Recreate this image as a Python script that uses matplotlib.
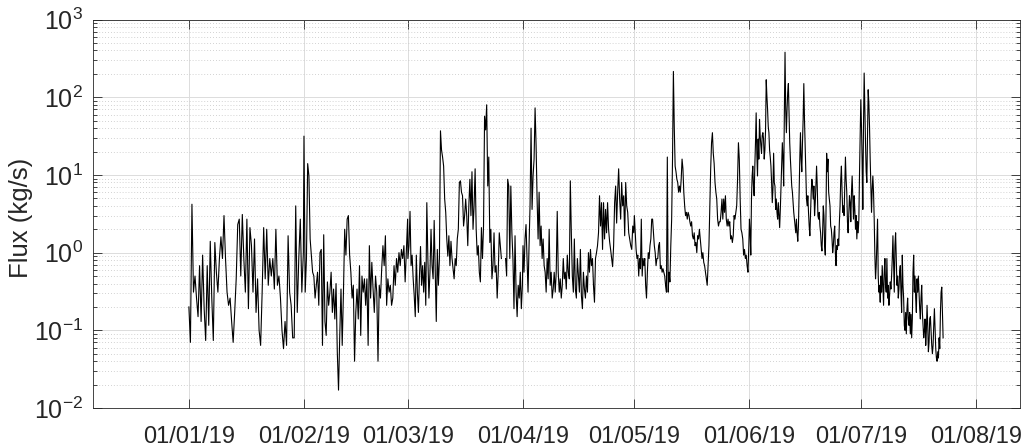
import matplotlib
matplotlib.use('Agg')
import matplotlib.pyplot as plt
import matplotlib.dates as mdates
import numpy as np
import pandas as pd

# 字体设置 (Helvetica 风格)
plt.rcParams['font.family'] = ['Liberation Sans', 'DejaVu Sans']
plt.rcParams['mathtext.fontset'] = 'custom'
plt.rcParams['mathtext.rm'] = 'Liberation Sans'
plt.rcParams['mathtext.it'] = 'Liberation Sans'

# 每月通量数据 (kg/s)
jan = [0.2, 0.07, 4.2, 0.31, 0.5, 0.26, 0.15, 0.68, 0.13, 0.93, 0.19, 0.074, 0.68, 0.116,
       1.4, 0.26, 0.074, 1.35, 0.56, 0.31, 0.84, 1.6, 0.84, 3.0, 0.84, 0.31, 0.21, 0.26,
       0.13, 0.07, 0.17, 0.46, 2.3, 2.7, 0.5, 3.1, 0.84, 0.31, 2.7, 0.19, 2.1, 1.23, 0.31,
       1.5, 0.17, 0.46, 0.1, 0.064, 0.31, 2.1, 0.46, 2.0, 0.38, 0.84, 0.5, 0.84, 0.34, 2.0,
       0.38, 0.5, 0.26, 0.1, 0.058, 0.13, 0.064, 1.65, 0.31, 0.21, 0.08,
       0.08, 4.0, 0.17, 0.84, 2.7, 0.31, 1.0]
feb = [31.6, 0.31, 0.84, 14, 9.7, 1.5, 0.93, 0.56, 0.5, 0.26, 0.38, 0.56, 0.21, 1.0, 1.1,
       0.064, 1.7, 0.13, 0.086, 0.42, 0.21, 0.31, 0.56, 0.17, 0.34, 0.14, 0.4, 0.053, 0.017,
       0.086, 0.34, 0.064, 0.31, 2.0, 0.93, 2.7, 3.0, 0.93, 0.56, 0.26, 0.38, 0.04, 0.17,
       0.34, 0.14, 0.68, 0.086, 0.5, 0.31, 0.46, 0.21, 0.46, 0.064, 1.23, 0.26, 0.75, 0.34,
       0.17, 0.5, 0.31, 0.04, 0.38, 0.26, 0.62, 1.23, 0.68, 1.65, 0.21, 0.46, 0.31, 0.38,
       0.21, 0.26, 0.68, 0.38, 0.84, 0.56, 1.0, 0.68, 1.1, 0.84, 1.23, 0.42, 1.1, 2.7]
mar = [0.84, 1.23, 3.4, 0.68, 0.93, 0.46, 0.28, 0.15, 0.93, 0.31, 0.17, 0.5, 1.2, 0.38,
       0.68, 0.31, 0.75, 0.21, 4.4, 0.84, 0.26, 0.56, 2.0, 0.68, 0.46, 2.6, 0.56, 0.13, 1.1,
       0.38, 0.84, 37, 21, 17, 13, 4.9, 3.3, 1.5, 0.9, 1.65, 0.68, 1.4, 0.84, 0.62, 0.46,
       0.84, 0.68, 1.5, 2.0, 8.0, 8.4, 6.0, 5.4, 2.2, 3.0, 4.9, 3.0, 1.23, 4.0, 8.8, 3.0, 11,
       2.0, 4.0, 12, 2.0, 0.93, 1.23, 0.56, 0.42, 2.1, 0.84, 2.2, 57, 38, 80, 7.2, 17, 1.35,
       2.0, 0.46, 0.68, 1.8, 0.56, 0.68, 0.26, 0.56, 1.8, 1.23, 0.84,
       np.nan, np.nan, np.nan,
       0.84, 0.5, 8.8, 7.2, 0.84, 7.2, 1.8, 0.84, 0.19,
       1.65, 0.31, 0.15, 0.38, 0.26, 0.56, 0.19, 0.38]
apr = [1.23, 0.56, 1.5, 2.3, 0.84, 0.31, 1.23, 4.0, 40, 3.6, 9.7, 16, 73, 24, 4.9, 1.5,
       6.0, 1.23, 2.2, 0.84, 1.5, 0.68, 0.56, 0.31, 0.84, 0.46, 2.0, 0.38, 0.56, 0.26, 0.34,
       0.56, 0.31, 0.56, 3.4, 0.56, 0.31, 0.46, 0.26, 0.38, 0.84, 0.46, 0.56, 0.34, 0.93,
       0.56, 0.46, 8.4, 1.8, 0.5, 0.31, 1.5, 0.34, 0.26, 0.84, 0.5, 0.31, 1.1, 0.28, 0.19,
       0.56, 0.34, 0.26, 0.5, 0.31, 1.0, 0.56, 1.1, 0.68, 0.84, 0.38, 0.23, 0.84, 1.0, 1.23,
       1.8, 5.4, 2.2, 4.4, 1.1, 4.4, 1.5, 3.6, 1.8, 4.4, 2.0, 1.4, 1.1, 0.84, 0.66, 1.23,
       4.4, 7.2, 2.4, 6.0, 12, 4.9, 2.7, 8.0, 4.0, 5.4, 1.65, 8.0, 4.0, 3.3, 1.8, 1.5, 1.23,
       1.1, 2.2, 1.8]
may = [3.0, 1.8, 1.1, 0.84, 0.93, 0.5, 0.84, 0.62, 2.7, 0.5, 0.84, 0.68,
       0.84, 0.38, 0.26, 0.56, 1.0, 0.84, 1.23, 1.5, 2.7, 2.7, 1.8, 1.23, 1.0, 0.68, 0.84,
       0.84, 1.23, 1.35, 0.62, 0.68, 0.56, 0.62, 0.56, 0.5, 0.38, 0.31, 17, 0.31, 0.56, 0.42,
       1.23, 2.7, 16, 215, 42, 13, 11, 8.8, 8.0, 6.0, 7.2, 6.0, 8.8, 16, 12, 6.0, 4.0, 3.0,
       3.3, 2.7, 3.3, 3.0, 2.5, 2.2, 2.5, 1.65, 1.5, 1.8, 1.23, 1.35, 1.0, 1.65, 1.5, 2.0,
       1.5, 1.1, 0.84, 1.0, 0.75, 0.68, 0.56, 0.46, 0.38, 0.68, 1.23, 3.6, 12, 26, 35, 19,
       14, 8.0, 6.0, 4.9, 2.7, 2.2, 2.5, 2.5, 3.3, 4.9, 2.7, 4.9, 3.3, 5.4, 2.7, 2.2, 2.7,
       2.2, 2.5, 1.5, 1.65, 1.35, 1.65, 3.0, 2.7,
       3.3, 4.0, 8.8, 26, 16, 4.9, 2.0, 1.8, 1.5, 0.93, 1.1, 0.84, 0.93, 0.68, 0.56, 1.23]
jun = [2.7, 1.8, 0.93, 4.9, 9.7, 13, 7.2, 5.4, 13, 26, 63, 19, 9.7, 29, 16, 52, 32, 24,
       19, 32, 35, 29, 16, 21, 38, 168, 103, 70, 42, 35, 21, 17, 13, 8.0, 4.4, 6.6, 19, 8.0,
       7.2, 3.6, 4.9, 3.3, 2.7, 4.4, 3.0, 2.1, 3.6, 7.2, 13, 26, 16, 7.2, 63, 380, 70, 35,
       70, 115, 150, 63, 26, 16, 11, 7.2, 6.0, 4.4, 3.3, 2.7, 2.2, 1.8, 2.7, 1.8, 1.4, 2.2,
       6.0, 16, 35, 16, 11, 26, 52, 150, 52, 24, 12, 4.9, 4.0, 5.4, 3.3, 2.2, 1.65, 3.3, 6.0,
       8.8, 7.2, 4.9, 7.2, 3.0, 4.4, 7.2, 13, 7.2, 3.0, 2.7, 3.3, 2.2, 1.8, 1.23, 1.05, 1.8,
       4.0, 3.0, 1.23, 0.93, 3.0, 19, 11, 16, 6.0, 4.9, 4.0, 2.2, 2.0, 1.5, 1.0, 1.23, 1.8,
       2.2, 1.0, 0.68, 1.23, 1.1, 1.5, 1.23, 2.5, 4.0, 8.8, 13, 6.0, 3.3, 4.0,
       3.0, 7.2, 17, 8.8, 6.0, 2.5, 1.8, 3.0, 5.4, 4.4, 2.5, 6.0, 9.7, 4.9, 2.7, 5.4, 3.6,
       2.0, 3.0, 1.5, 2.5, 1.8, 2.7, 11, 32]
jul = [93, 42, 16, 3.6, 42, 205, 70, 26, 11, 8.0, 29, 125, 85, 42, 16, 7.2, 3.3, 6.6, 9.7,
       6.0, 2.7, 0.93, 0.46, 0.68, 1.35, 2.7, 0.5, 0.31, 0.38, 0.23, 0.5, 0.31, 0.68, 0.38,
       0.21, 0.56, 0.84, 0.38, 0.31, 0.84, 0.26, 0.38, 0.21, 0.28, 0.42, 0.34, 0.5, 0.84,
       1.65, 0.68, 0.31, 1.23, 1.8, 0.84, 0.38, 0.5, 0.26, 0.34, 0.56, 0.68, 0.31, 0.17,
       0.93, 0.38, 0.26, 0.116, 0.1, 0.17, 0.09, 0.19, 0.26, 0.14, 0.116, 0.17, 0.09, 0.16,
       0.08, 0.14, 0.56, 0.93, 0.31, 0.5, 0.26, 0.17, 0.46, 0.31, 0.5, 0.31, 0.19, 0.14,
       0.26, 0.38, 0.17, 0.116, 0.08, 0.1, 0.14, 0.064, 0.1, 0.21, 0.116, 0.053, 0.07, 0.14,
       0.15, 0.1, 0.064, 0.05, 0.064, 0.116, 0.19, 0.1, 0.058, 0.044, 0.04, 0.053, 0.044,
       0.08, 0.058, 0.17, 0.31, 0.36, 0.17, 0.08]

# 每个月数据的起止时间
spans = [('2019-01-01 00:00', '2019-01-31 20:00', jan),
         ('2019-02-01 00:00', '2019-02-28 22:00', feb),
         ('2019-03-01 00:00', '2019-03-31 20:00', mar),
         ('2019-04-01 00:00', '2019-04-30 20:00', apr),
         ('2019-05-01 00:00', '2019-05-31 20:00', may),
         ('2019-06-01 00:00', '2019-06-30 20:00', jun),
         ('2019-07-01 00:00', '2019-07-23 04:00', jul)]

times = []
flux = []
for start, end, vals in spans:
    times.append(pd.date_range(start, end, periods=len(vals)))
    flux.extend(vals)
times = np.concatenate([t.values for t in times])
flux = np.array(flux, dtype=float)

# 创建图形
fig = plt.figure(figsize=(10.23, 4.47), dpi=100)
ax = fig.add_axes([0.0909, 0.0872, 0.906, 0.869])

ax.plot(times, flux, color='black', lw=0.8)

ax.set_yscale('log')
ax.set_ylim(1e-2, 1e3)
ax.set_xlim(pd.Timestamp('2018-12-06 04:00'), pd.Timestamp('2019-08-12 20:00'))

ticks = pd.date_range('2019-01-01', '2019-08-01', freq='MS')
ax.set_xticks(ticks)
ax.xaxis.set_major_formatter(mdates.DateFormatter('%d/%m/%y'))
ax.xaxis.set_minor_locator(matplotlib.ticker.NullLocator())

# 网格
ax.grid(True, which='major', color='#dcdcdc', lw=0.7)
ax.yaxis.grid(True, which='minor', linestyle=(0, (1, 2.5)), color='#c4c4c4', lw=0.6)
ax.set_axisbelow(True)

ax.tick_params(which='both', direction='in', top=True, right=True,
               colors='#262626', width=0.6)
ax.tick_params(axis='x', labelsize=17, pad=13)
ax.tick_params(axis='y', labelsize=18, pad=7)
ax.tick_params(which='major', length=6.5)
ax.tick_params(which='minor', length=3.2)
for s in ax.spines.values():
    s.set_color('#262626')
    s.set_linewidth(0.6)

ax.set_ylabel('Flux (kg/s)', fontsize=18.5, color='#262626')
ax.yaxis.set_label_coords(-0.065, 0.49)

plt.savefig('out.png', dpi=100)
plt.close()
